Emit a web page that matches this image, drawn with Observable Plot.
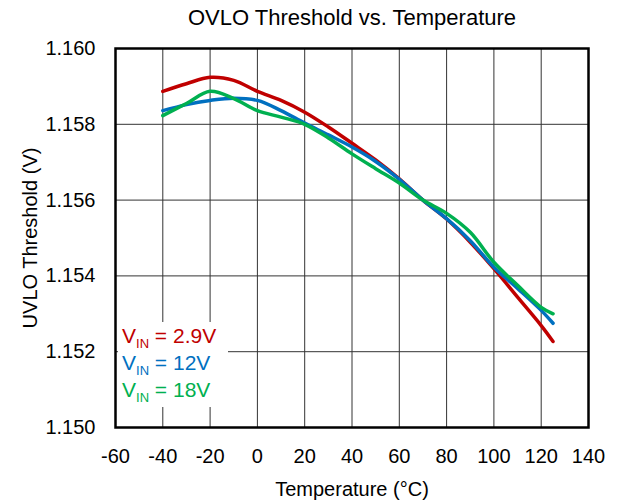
<!DOCTYPE html>
<html>
<head>
<meta charset="utf-8">
<script src="https://cdn.jsdelivr.net/npm/d3@7"></script>
<script src="https://cdn.jsdelivr.net/npm/@observablehq/plot@0.6"></script>
<style>
  html, body { margin: 0; padding: 0; background: #fff; }
  #wrap { position: relative; width: 617px; height: 503px; font-family: "Liberation Sans", Arial, sans-serif; }
  #legend { position: absolute; left: 118px; top: 322px; width: 110px; height: 85px; background: #fff; font-size: 21px; line-height: 27px; }
  #legend div { position: absolute; left: 4px; white-space: nowrap; }
  #legend sub { font-size: 13px; vertical-align: -5px; line-height: 0; }
</style>
</head>
<body>
<div id="wrap"></div>
<script>
const temps = [-40, -30, -20, -10, 0, 10, 20, 30, 40, 50, 60, 70, 80, 90, 100, 110, 120, 125];
const vin29 = [1.15887, 1.15907, 1.15924, 1.15916, 1.15887, 1.15863, 1.15832, 1.15793, 1.15750, 1.15706, 1.15656, 1.15600, 1.15550, 1.15489, 1.15419, 1.15344, 1.15269, 1.15227];
const vin12 = [1.15836, 1.15852, 1.15863, 1.15869, 1.15863, 1.15836, 1.15803, 1.15772, 1.15740, 1.15702, 1.15655, 1.15600, 1.15551, 1.15493, 1.15423, 1.15367, 1.15309, 1.15275];
const vin18 = [1.15823, 1.15855, 1.15887, 1.15868, 1.15836, 1.15819, 1.15800, 1.15764, 1.15722, 1.15683, 1.15645, 1.15600, 1.15565, 1.15515, 1.15436, 1.15375, 1.15317, 1.15300];
const seriesNames = ["2.9V", "12V", "18V"];
const seriesColors = ["#C00000", "#0070C0", "#00B050"];
const xTicks = [-60, -40, -20, 0, 20, 40, 60, 80, 100, 120, 140];
const yTicks = [1.150, 1.152, 1.154, 1.156, 1.158, 1.160];
const titleText = "OVLO Threshold vs. Temperature";
const xLabel = "Temperature (°C)";
const yLabel = "UVLO Threshold (V)";

const allSeries = [vin29, vin12, vin18];
const rows = [];
allSeries.forEach((vals, si) => {
  vals.forEach((v, i) => rows.push({series: seriesNames[si], t: temps[i], v}));
});

const chart = Plot.plot({
  width: 617,
  height: 503,
  marginLeft: 115,
  marginRight: 29,
  marginTop: 48,
  marginBottom: 76,
  style: {fontFamily: "'Liberation Sans', Arial, sans-serif", fontSize: "20px", color: "#000", background: "#fff"},
  x: {domain: [-60, 140]},
  y: {domain: [1.150, 1.160]},
  color: {domain: seriesNames, range: seriesColors},
  marks: [
    Plot.gridX(xTicks, {stroke: "#333", strokeOpacity: 1, strokeWidth: 1}),
    Plot.gridY(yTicks, {stroke: "#333", strokeOpacity: 1, strokeWidth: 1}),
    Plot.axisX({ticks: xTicks, tickSize: 0, tickPadding: 21, tickFormat: d => String(d),
      label: xLabel, labelAnchor: "center", labelOffset: 68, labelArrow: "none", fontSize: 20}),
    Plot.axisY({ticks: yTicks, tickSize: 0, tickPadding: 20, tickFormat: d => d.toFixed(3),
      label: yLabel, labelAnchor: "center", labelOffset: 93, labelArrow: "none", fontSize: 20}),
    Plot.line(rows, {x: "t", y: "v", z: "series", stroke: "series", strokeWidth: 3.5, curve: "catmull-rom"}),
    Plot.frame({stroke: "#000", strokeWidth: 2.5}),
    Plot.text([titleText], {frameAnchor: "top", dy: -39, text: d => d, fontSize: 22})
  ]
});

const wrap = document.getElementById("wrap");
wrap.appendChild(chart);
const legend = document.createElement("div");
legend.id = "legend";
seriesNames.forEach((n, i) => {
  const d = document.createElement("div");
  d.style.top = (i * 27) + "px";
  d.style.color = seriesColors[i];
  d.innerHTML = "V<sub>IN</sub> = " + n;
  legend.appendChild(d);
});
wrap.appendChild(legend);
</script>
</body>
</html>
